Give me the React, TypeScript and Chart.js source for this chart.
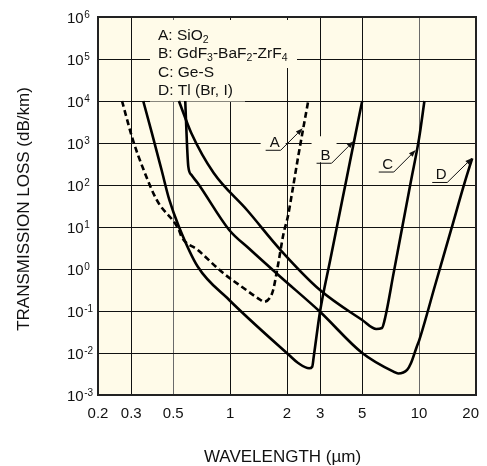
import React, { useEffect, useRef } from 'react';
import { Chart, registerables } from 'chart.js';

Chart.register(...registerables);

// ---------- data ----------
const X_TICKS = [0.2, 0.3, 0.5, 1, 2, 3, 5, 10, 20];
const Y_EXPONENTS = [-3, -2, -1, 0, 1, 2, 3, 4, 5, 6];

// A: SiO2 (dashed)
const A_WAVELENGTH = [0.268, 0.306, 0.349, 0.409, 0.536, 0.554, 0.675, 0.919, 1.177, 1.45, 1.51, 1.62, 1.69, 1.80, 1.92, 2.02, 2.14, 2.29, 2.59];
const A_LOSS = [1e4, 1180, 227, 44, 8.5, 5.8, 2.83, 0.80, 0.353, 0.183, 0.165, 0.204, 0.316, 1.39, 7.2, 17.6, 76, 464, 1e4];

// B: GdF3-BaF2-ZrF4
const B_WAVELENGTH = [0.347, 0.386, 0.434, 0.477, 0.536, 0.675, 0.989, 2.05, 2.29, 2.62, 2.72, 2.77, 2.99, 3.38, 3.83, 4.13, 4.52, 5.0];
const B_LOSS = [1e4, 1700, 227, 44, 10.2, 1.13, 0.183, 0.00895, 0.00578, 0.00432, 0.00472, 0.00817, 0.096, 1.58, 25.8, 139, 1062, 1e4];

// C: Ge-S
const C_WAVELENGTH = [0.536, 0.623, 0.819, 1.228, 1.85, 2.99, 5.0, 5.93, 6.36, 6.63, 7.32, 8.2, 9.05, 10.0, 10.67];
const C_LOSS = [1e4, 1730, 193, 25.4, 2.83, 0.316, 0.061, 0.0373, 0.0394, 0.073, 0.776, 11.6, 123, 1309, 1e4];

// D: Tl (Br, I)
const D_WAVELENGTH = [0.579, 0.590, 0.601, 0.625, 0.675, 0.989, 1.255, 1.85, 2.99, 5.0, 7.32, 7.75, 8.64, 9.05, 9.72, 10.0, 12.15, 14.76, 17.4, 19.1];
const D_LOSS = [1e4, 1180, 273, 173, 110, 8.5, 3.11, 0.645, 0.096, 0.01, 0.00359, 0.00325, 0.00394, 0.00569, 0.0141, 0.0197, 0.41, 8.5, 112, 432];

const LEGEND_ENTRIES = ['A: SiO_2', 'B: GdF_3-BaF_2-ZrF_4', 'C: Ge-S', 'D: Tl (Br, I)'];

const ANNOTATION_LABELS = ['A', 'B', 'C', 'D'];
const ANNOTATION_WAVELENGTH = [2.42, 4.5, 9.6, 19.1];
const ANNOTATION_LOSS = [2240, 1100, 680, 440];

const X_TITLE = 'WAVELENGTH (µm)';
const Y_TITLE = 'TRANSMISSION LOSS (dB/km)';

// ---------- styles ----------
const FONT = '"Liberation Sans", Arial, Helvetica, sans-serif';
const PLOT_BG = '#FFFBE9';
const ANNOT_OFFSETS = [[-22, 22], [-22, 22], [-22, 22], [-25, 24.5]];

const zip = (xs: number[], ys: number[]) => xs.map((x, i) => ({ x, y: ys[i] }));

function drawRich(ctx: CanvasRenderingContext2D, text: string, x: number, y: number, size: number) {
  const parts = text.split(/_(\d)/);
  let cx = x;
  parts.forEach((p, i) => {
    if (!p) return;
    const sub = i % 2 === 1;
    ctx.font = `${sub ? size * 0.68 : size}px ${FONT}`;
    ctx.fillText(p, cx, sub ? y + 3 : y);
    cx += ctx.measureText(p).width;
  });
}

const decorPlugin = {
  id: 'decor',
  beforeDraw(chart: any) {
    const { ctx, chartArea: a } = chart;
    ctx.save();
    ctx.fillStyle = '#ffffff';
    ctx.fillRect(0, 0, chart.width, chart.height);
    ctx.fillStyle = PLOT_BG;
    ctx.fillRect(a.left, a.top, a.right - a.left, a.bottom - a.top);
    ctx.restore();
  },
  beforeDatasetsDraw(chart: any) {
    const { ctx, chartArea: a, scales } = chart;
    const xs = scales.x, ys = scales.y;
    ctx.save();
    ctx.fillStyle = PLOT_BG;
    // legend box covering grid
    const lx = a.left + 52;
    ctx.fillRect(lx, a.top + 3, 147, 48);
    ctx.fillRect(lx, a.top + 50, 95, 34.5);
    // label backgrounds
    ANNOTATION_LABELS.forEach((_, i) => {
      const tx = xs.getPixelForValue(ANNOTATION_WAVELENGTH[i]);
      const ty = ys.getPixelForValue(ANNOTATION_LOSS[i]);
      const [dx, dy] = ANNOT_OFFSETS[i];
      const ur = tx + dx, uy = ty + dy;
      ctx.fillRect(ur - 20, uy - 27, 25, 26);
    });
    ctx.restore();
  },
  afterDraw(chart: any) {
    const { ctx, chartArea: a, scales } = chart;
    const xs = scales.x, ys = scales.y;
    ctx.save();
    ctx.fillStyle = '#111';
    ctx.strokeStyle = '#111';

    // legend text
    ctx.textAlign = 'left';
    ctx.textBaseline = 'alphabetic';
    LEGEND_ENTRIES.forEach((t, i) => {
      drawRich(ctx, t, a.left + 60, a.top + 23 + i * 18.3, 15.5);
    });

    // annotations
    ANNOTATION_LABELS.forEach((lab, i) => {
      const tx = xs.getPixelForValue(ANNOTATION_WAVELENGTH[i]);
      const ty = ys.getPixelForValue(ANNOTATION_LOSS[i]);
      const [dx, dy] = ANNOT_OFFSETS[i];
      const ur = tx + dx, uy = ty + dy;
      ctx.lineWidth = 1;
      ctx.beginPath();
      ctx.moveTo(ur - 15, uy);
      ctx.lineTo(ur, uy);
      const len = Math.hypot(tx - ur, ty - uy);
      const ux = (tx - ur) / len, uyv = (ty - uy) / len;
      const ah = 7, aw = 2.6;
      const bx = tx - ux * ah, by = ty - uyv * ah;
      ctx.lineTo(bx, by);
      ctx.stroke();
      ctx.beginPath();
      ctx.moveTo(tx, ty);
      ctx.lineTo(bx - uyv * aw, by + ux * aw);
      ctx.lineTo(bx + uyv * aw, by - ux * aw);
      ctx.closePath();
      ctx.fill();
      ctx.font = `15px ${FONT}`;
      ctx.textAlign = 'center';
      ctx.fillText(lab, ur - 6, uy - 3);
    });

    // border
    ctx.lineWidth = 2;
    ctx.strokeStyle = '#222';
    ctx.strokeRect(a.left, a.top, a.right - a.left, a.bottom - a.top);

    // y tick labels
    ctx.fillStyle = '#111';
    ctx.textAlign = 'left';
    Y_EXPONENTS.forEach((e) => {
      const y = ys.getPixelForValue(Math.pow(10, e));
      ctx.font = `15px ${FONT}`;
      ctx.fillText('10', a.left - 31, y + 5.5);
      const w = ctx.measureText('10').width;
      ctx.font = `10px ${FONT}`;
      ctx.fillText(e < 0 ? '-' + Math.abs(e) : String(e), a.left - 31 + w + 0.5, y + 0.5);
    });

    // x tick labels
    ctx.font = `15px ${FONT}`;
    ctx.textAlign = 'center';
    X_TICKS.forEach((v) => {
      let x = xs.getPixelForValue(v);
      const lbl = String(v);
      const w = ctx.measureText(lbl).width;
      if (x + w / 2 > chart.width - 8) x = chart.width - 8 - w / 2;
      ctx.fillText(lbl, x, a.bottom + 22.5);
    });

    // axis titles
    ctx.font = `17px ${FONT}`;
    ctx.textAlign = 'center';
    ctx.fillText(X_TITLE, (a.left + a.right) / 2 - 4.5, a.bottom + 66.5);
    ctx.save();
    ctx.translate(28.5, (a.top + a.bottom) / 2 + 3);
    ctx.rotate(-Math.PI / 2);
    ctx.fillText(Y_TITLE, 0, 0);
    ctx.restore();

    ctx.restore();
  },
};

const lineStyle = {
  borderColor: '#000',
  borderWidth: 2.6,
  pointRadius: 0,
  fill: false,
  cubicInterpolationMode: 'monotone' as const,
  borderJoinStyle: 'round' as const,
};

export default function App() {
  const ref = useRef<HTMLCanvasElement>(null);
  useEffect(() => {
    const gridColor = (c: any) =>
      c.tick && (c.tick.value === 0.5 || c.tick.value === 10) ? '#6a6a6a' : '#111';
    const chart = new Chart(ref.current as HTMLCanvasElement, {
      type: 'line',
      data: {
        datasets: [
          { label: 'A: SiO2', data: zip(A_WAVELENGTH, A_LOSS), ...lineStyle, borderDash: [6, 3.5] },
          { label: 'B: GdF3-BaF2-ZrF4', data: zip(B_WAVELENGTH, B_LOSS), ...lineStyle },
          { label: 'C: Ge-S', data: zip(C_WAVELENGTH, C_LOSS), ...lineStyle },
          { label: 'D: Tl (Br, I)', data: zip(D_WAVELENGTH, D_LOSS), ...lineStyle },
        ],
      },
      options: {
        animation: false,
        responsive: true,
        maintainAspectRatio: false,
        layout: { padding: { left: 98, top: 17, right: 11, bottom: 71 } },
        plugins: { legend: { display: false }, tooltip: { enabled: false } },
        scales: {
          x: {
            type: 'logarithmic',
            min: 0.2,
            max: 20,
            afterBuildTicks: (s: any) => {
              s.ticks = X_TICKS.map((v) => ({ value: v }));
            },
            ticks: { display: false },
            grid: { color: gridColor, lineWidth: 1, drawTicks: false },
            border: { display: false },
          },
          y: {
            type: 'logarithmic',
            min: 1e-3,
            max: 1e6,
            afterBuildTicks: (s: any) => {
              s.ticks = Y_EXPONENTS.map((e) => ({ value: Math.pow(10, e) }));
            },
            ticks: { display: false },
            grid: { color: '#111', lineWidth: 1, drawTicks: false },
            border: { display: false },
          },
        },
      } as any,
      plugins: [decorPlugin],
    });
    return () => chart.destroy();
  }, []);
  return (
    <div style={{ position: 'fixed', left: 0, top: 0, width: 487, height: 466, background: '#fff' }}>
      <canvas ref={ref} />
    </div>
  );
}
